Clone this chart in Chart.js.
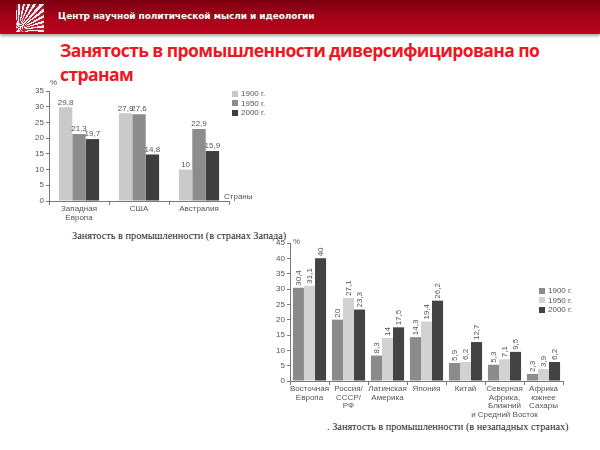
<!DOCTYPE html>
<html lang="ru">
<head>
<meta charset="utf-8">
<title>Занятость в промышленности</title>
<script src="https://cdn.jsdelivr.net/npm/chart.js@4"></script>
<style>
  html, body { margin: 0; padding: 0; background: #fff; }
  #slide { position: relative; width: 600px; height: 450px; overflow: hidden; background: #fff; }
  .header {
    position: absolute; left: 0; top: 0; width: 600px; height: 34px;
    background: linear-gradient(#7c0010, #a8031a 55%, #b8061e);
    box-shadow: 0 2px 3px rgba(0,0,0,0.35);
  }
  .logo {
    position: absolute; left: 16px; top: 4px; width: 28px; height: 28px;
    background: repeating-conic-gradient(from 0deg at 8% 92%, rgba(255,255,255,0.9) 0 5deg, rgba(255,255,255,0.12) 5deg 10deg);
  }
  .header span {
    position: absolute; left: 58px; top: 11px;
    font: bold 9px "DejaVu Sans", sans-serif; color: #fff; letter-spacing: -0.08px;
  }
  h1 {
    position: absolute; left: 60px; top: 38px; margin: 0; width: 500px;
    font: bold 17.5px/24px "Open Sans", sans-serif; color: #ee1620; letter-spacing: -0.6px;
  }
  canvas { position: absolute; }
  #chartWest { left: 0; top: 78px; }
  #chartEast { left: 250px; top: 236px; }
  .legend { position: absolute; font: 8px "Liberation Sans", sans-serif; color: #555; }
  .legend div { height: 9.5px; line-height: 9px; white-space: nowrap; }
  .legend i { display: inline-block; width: 6px; height: 6px; margin-right: 3px; vertical-align: -0.5px; }
  .note { position: absolute; font: 8px "Liberation Sans", sans-serif; color: #555; }
  .caption { position: absolute; font: 10.3px "Liberation Serif", serif; color: #222; white-space: nowrap; }
</style>
</head>
<body>
<div id="slide">
  <div class="header"><div class="logo"></div><span>Центр научной политической мысли и идеологии</span></div>
  <h1>Занятость в промышленности диверсифицирована по странам</h1>

  <canvas id="chartWest" width="290" height="150"></canvas>
  <div class="note" style="left:50px; top:78px;">%</div>
  <div class="note" style="left:224px; top:192px;">Страны</div>
  <div class="legend" id="legendWest" style="left:232px; top:89px;"></div>
  <div class="caption" style="left:72px; top:230px;">Занятость в промышленности (в странах Запада)</div>

  <canvas id="chartEast" width="340" height="185"></canvas>
  <div class="note" style="left:293px; top:237px;">%</div>
  <div class="legend" id="legendEast" style="left:539px; top:286px;"></div>
  <div class="caption" style="left:327px; top:421px;">. Занятость в промышленности (в незападных странах)</div>
</div>

<script>
// Данные: страны Запада
const westCategories = [["Западная", "Европа"], "США", "Австралия"];
const westYears = ["1900 г.", "1950 г.", "2000 г."];
const west1900 = [29.8, 27.9, 10];
const west1950 = [21.3, 27.6, 22.9];
const west2000 = [19.7, 14.8, 15.9];
const westColors = ["#c9c9c9", "#8c8c8c", "#3e3e3e"];
const westYTicks = [0, 5, 10, 15, 20, 25, 30, 35];

// Данные: незападные страны
const eastCategories = [
  ["Восточная", "Европа"],
  ["Россия/", "СССР/", "РФ"],
  ["Латинская", "Америка"],
  "Япония",
  "Китай",
  ["Северная", "Африка,", "Ближний", "и Средний Восток"],
  ["Африка", "южнее", "Сахары"],
];
const eastYears = ["1900 г.", "1950 г.", "2000 г."];
const east1900 = [30.4, 20, 8.3, 14.3, 5.9, 5.3, 2.3];
const east1950 = [31.1, 27.1, 14, 19.4, 6.2, 7.1, 3.9];
const east2000 = [40, 23.3, 17.5, 26.2, 12.7, 9.5, 6.2];
const eastColors = ["#8b8b8b", "#d2d2d2", "#434343"];
const eastYTicks = [0, 5, 10, 15, 20, 25, 30, 35, 40, 45];

const axisColor = "#7a7a7a";
const textColor = "#555";

// подписи значений над столбцами
const valueLabels = {
  id: "valueLabels",
  afterDatasetsDraw(chart, args, opts) {
    const ctx = chart.ctx;
    ctx.save();
    ctx.font = "8px 'Liberation Sans', sans-serif";
    ctx.fillStyle = textColor;
    chart.data.datasets.forEach((ds, i) => {
      chart.getDatasetMeta(i).data.forEach((bar, j) => {
        const txt = String(ds.data[j]).replace(".", ",");
        if (opts.rotate) {
          ctx.save();
          ctx.translate(bar.x, bar.y - 2);
          ctx.rotate(-Math.PI / 2);
          ctx.textAlign = "left";
          ctx.textBaseline = "middle";
          ctx.fillText(txt, 0, 0);
          ctx.restore();
        } else {
          ctx.textAlign = "center";
          ctx.textBaseline = "bottom";
          ctx.fillText(txt, bar.x, bar.y - 1);
        }
      });
    });
    ctx.restore();
  },
};

function makeLegend(el, years, colors) {
  el.innerHTML = years
    .map((y, i) => `<div><i style="background:${colors[i]}"></i>${y}</div>`)
    .join("");
}

function makeChart(id, cfg) {
  const ctx = document.getElementById(id).getContext("2d");
  return new Chart(ctx, {
    type: "bar",
    data: {
      labels: cfg.labels,
      datasets: cfg.series.map((data, i) => ({
        label: cfg.years[i],
        data: data,
        backgroundColor: cfg.colors[i],
        categoryPercentage: cfg.groupWidth,
        barPercentage: 1,
      })),
    },
    options: {
      responsive: false,
      animation: false,
      layout: { padding: cfg.padding },
      plugins: {
        legend: { display: false },
        tooltip: { enabled: false },
        valueLabels: { rotate: cfg.rotate },
      },
      scales: {
        x: {
          grid: { drawOnChartArea: false, tickLength: 4, color: axisColor, offset: true },
          border: { color: axisColor },
          ticks: {
            color: textColor,
            padding: 0,
            maxRotation: 0,
            autoSkip: false,
            font: { family: "'Liberation Sans', sans-serif", size: 8, lineHeight: 1.05 },
          },
          afterFit: (scale) => { scale.height = cfg.xHeight; },
        },
        y: {
          min: 0,
          max: cfg.yTicks[cfg.yTicks.length - 1],
          afterBuildTicks: (scale) => { scale.ticks = cfg.yTicks.map((v) => ({ value: v })); },
          grid: { drawOnChartArea: false, tickLength: 3, color: axisColor },
          border: { color: axisColor },
          ticks: {
            color: textColor,
            padding: 2,
            font: { family: "'Liberation Sans', sans-serif", size: 8 },
          },
          afterFit: (scale) => { scale.width = cfg.yWidth; },
        },
      },
    },
    plugins: [valueLabels],
  });
}

makeChart("chartWest", {
  labels: westCategories,
  years: westYears,
  series: [west1900, west1950, west2000],
  colors: westColors,
  yTicks: westYTicks,
  groupWidth: 0.67,
  padding: { top: 13, right: 61, left: 0, bottom: 0 },
  xHeight: 27,
  yWidth: 49,
  rotate: false,
});

makeChart("chartEast", {
  labels: eastCategories,
  years: eastYears,
  series: [east1900, east1950, east2000],
  colors: eastColors,
  yTicks: eastYTicks,
  groupWidth: 0.85,
  padding: { top: 7, right: 27, left: 0, bottom: 0 },
  xHeight: 40,
  yWidth: 40,
  rotate: true,
});

makeLegend(document.getElementById("legendWest"), westYears, westColors);
makeLegend(document.getElementById("legendEast"), eastYears, eastColors);
</script>
</body>
</html>
